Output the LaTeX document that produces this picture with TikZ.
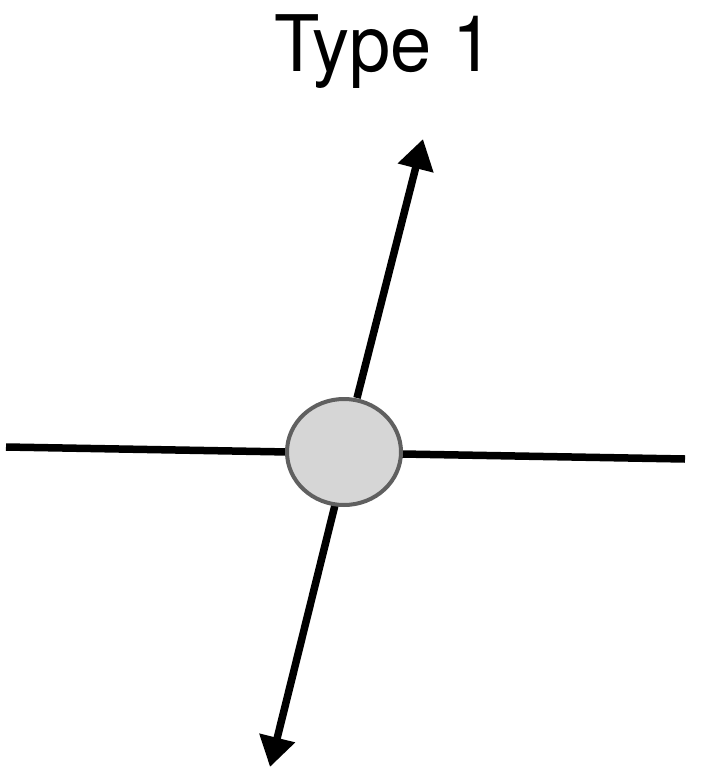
\documentclass[tikz,border=0pt]{standalone}
\usepackage{fontspec}
\setmainfont{TeX Gyre Heros}
\usetikzlibrary{arrows.meta,shapes.geometric}
\definecolor{ringgray}{HTML}{606060}
\definecolor{fillgray}{HTML}{D6D6D6}
\begin{document}
\begin{tikzpicture}[x=1pt,y=-1pt,
  axisline/.style={line width=7.5pt,black},
  arrowline/.style={line width=7.5pt,black,-{Triangle[length=30pt,width=35pt]}},
  hub/.style={ellipse,draw=ringgray,fill=fillgray,line width=4pt,minimum width=114pt,minimum height=106pt,inner sep=0pt}]
\useasboundingbox (0,0) rectangle (711,768);
\coordinate (L) at (6,447);
\coordinate (R) at (685,459);
\coordinate (UpS) at (357,398);
\coordinate (UpT) at (423,139);
\coordinate (DnS) at (335,505);
\coordinate (DnT) at (270,767);
\draw[axisline] (L) -- (R);
\draw[arrowline] (UpS) -- (UpT);
\draw[arrowline] (DnS) -- (DnT);
\node[hub] (c) at (344,452) {};
\node[anchor=base,font=\fontsize{78}{80}\selectfont,xscale=0.95,inner sep=0pt] (t) at (384,71) {Type 1};
\end{tikzpicture}
\end{document}
